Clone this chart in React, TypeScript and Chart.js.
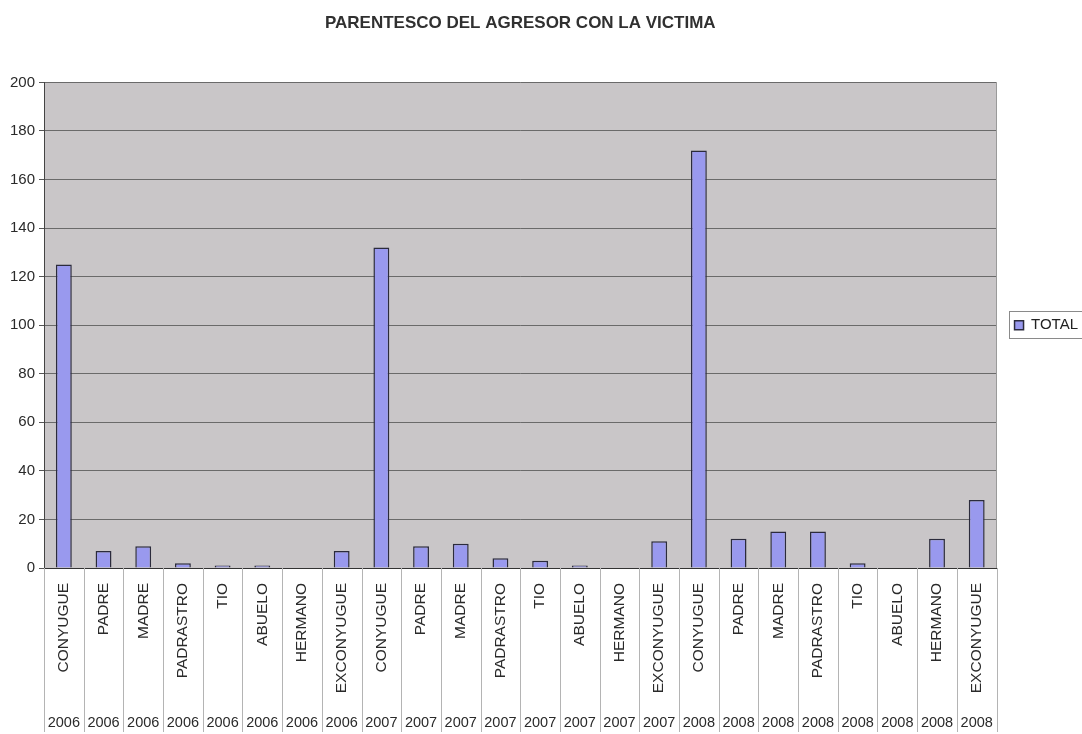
import React, { useEffect, useRef } from "react";
import { Chart, registerables } from "chart.js";

Chart.register(...registerables);

const relationLabels = [
  "CONYUGUE", "PADRE", "MADRE", "PADRASTRO", "TIO", "ABUELO", "HERMANO", "EXCONYUGUE",
  "CONYUGUE", "PADRE", "MADRE", "PADRASTRO", "TIO", "ABUELO", "HERMANO", "EXCONYUGUE",
  "CONYUGUE", "PADRE", "MADRE", "PADRASTRO", "TIO", "ABUELO", "HERMANO", "EXCONYUGUE",
];

const yearLabels = [
  "2006", "2006", "2006", "2006", "2006", "2006", "2006", "2006",
  "2007", "2007", "2007", "2007", "2007", "2007", "2007", "2007",
  "2008", "2008", "2008", "2008", "2008", "2008", "2008", "2008",
];

const totalValues = [
  125, 7, 9, 2, 1, 1, 0, 7,
  132, 9, 10, 4, 3, 1, 0, 11,
  172, 12, 15, 15, 2, 0, 12, 28,
];

const yTicks = [0, 20, 40, 60, 80, 100, 120, 140, 160, 180, 200];

const chartTitle = "PARENTESCO DEL AGRESOR CON LA VICTIMA";
const seriesName = "TOTAL";

const FONT = "'Liberation Sans', Arial, Helvetica, sans-serif";

const decorPlugin = {
  id: "decor",
  beforeDraw(chart: any) {
    const { ctx, chartArea } = chart;
    ctx.save();
    ctx.fillStyle = "#c9c6c8";
    ctx.fillRect(chartArea.left, chartArea.top, chartArea.right - chartArea.left, chartArea.bottom - chartArea.top);
    ctx.restore();
  },
  afterDraw(chart: any) {
    const { ctx, chartArea } = chart;
    const xs = chart.scales.x;
    const x2 = chart.scales.x2;
    const n = relationLabels.length;
    ctx.save();
    ctx.strokeStyle = "#b4b4b4";
    ctx.lineWidth = 1;
    for (let i = 0; i <= n; i++) {
      const px = Math.round(xs.left + (i * (xs.right - xs.left)) / n) + 0.5;
      ctx.beginPath();
      ctx.moveTo(px, xs.top);
      ctx.lineTo(px, x2.bottom - 2);
      ctx.stroke();
    }
    // plot area right edge
    ctx.strokeStyle = "#9a9a9a";
    ctx.beginPath();
    ctx.moveTo(Math.round(chartArea.right) - 0.5, chartArea.top);
    ctx.lineTo(Math.round(chartArea.right) - 0.5, chartArea.bottom);
    ctx.stroke();
    // legend frame
    const hb = chart.legend && chart.legend.legendHitBoxes && chart.legend.legendHitBoxes[0];
    if (hb) {
      ctx.strokeStyle = "#8a8a8a";
      ctx.strokeRect(Math.round(hb.left) - 5.5, Math.round(hb.top) - 6.5, hb.width + 14, hb.height + 12);
    }
    ctx.restore();
  },
};

export default function App() {
  const canvasRef = useRef<HTMLCanvasElement | null>(null);

  useEffect(() => {
    document.body.style.margin = "0";
    const canvas = canvasRef.current;
    if (!canvas) return;
    const chart = new Chart(canvas, {
      type: "bar",
      data: {
        labels: relationLabels,
        datasets: [
          {
            label: seriesName,
            data: totalValues,
            backgroundColor: "#9999ee",
            borderColor: "#2b2b3c",
            borderWidth: 1.5,
            barPercentage: 0.4,
            categoryPercentage: 1,
          },
        ],
      },
      options: {
        responsive: false,
        animation: false,
        devicePixelRatio: 1,
        layout: { padding: { left: 0, right: -6, top: 0, bottom: 0 } },
        plugins: {
          title: {
            display: true,
            text: chartTitle,
            fullSize: false,
            color: "#303030",
            font: { family: FONT, size: 17, weight: "bold" },
            padding: { top: 13, bottom: 49 },
          },
          legend: {
            display: true,
            position: "right",
            fullSize: false,
            labels: {
              boxWidth: 9,
              boxHeight: 9,
              padding: 18,
              color: "#222",
              font: { family: FONT, size: 15 },
            },
          },
          tooltip: { enabled: false },
        },
        scales: {
          x: {
            type: "category",
            position: "bottom",
            weight: 0,
            grid: { display: false },
            border: { display: true, color: "#333", width: 1 },
            ticks: {
              autoSkip: false,
              minRotation: 90,
              maxRotation: 90,
              padding: 7,
              color: "#2a2a2a",
              font: { family: FONT, size: 15.5 },
            },
            afterFit: (s: any) => {
              s.height = 137;
            },
          },
          x2: {
            type: "category",
            labels: yearLabels,
            position: "bottom",
            weight: 1,
            offset: true,
            grid: { display: false, drawTicks: false },
            border: { display: false },
            ticks: {
              autoSkip: false,
              minRotation: 0,
              maxRotation: 0,
              padding: 9,
              color: "#2a2a2a",
              font: { family: FONT, size: 14.5 },
            },
            afterFit: (s: any) => {
              s.height = 29;
            },
          },
          y: {
            type: "linear",
            min: 0,
            max: 200,
            afterBuildTicks: (s: any) => {
              s.ticks = yTicks.map((v) => ({ value: v }));
            },
            grid: { color: "#6a6a6a", lineWidth: 1, tickLength: 5, tickColor: "#555" },
            border: { display: true, color: "#444", width: 1 },
            ticks: {
              padding: 4,
              color: "#2a2a2a",
              font: { family: FONT, size: 15 },
            },
            afterFit: (s: any) => {
              s.width = 44;
            },
          },
        },
      },
      plugins: [decorPlugin],
    } as any);
    return () => chart.destroy();
  }, []);

  return (
    <div style={{ width: 1082, height: 734 }}>
      <canvas ref={canvasRef} width={1082} height={734} style={{ display: "block", width: 1082, height: 734 }} />
    </div>
  );
}
